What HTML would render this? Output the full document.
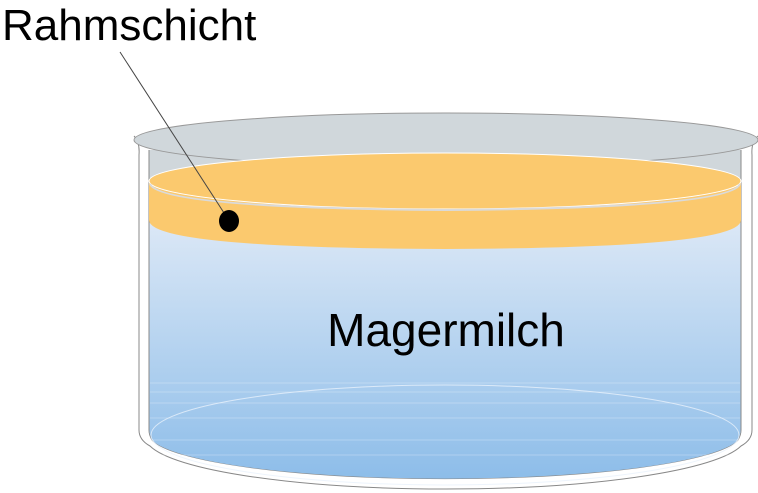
<!DOCTYPE html>
<html><head><style>
html,body{margin:0;padding:0;background:#fff;}
svg{display:block;}
text{font-family:"Liberation Sans",sans-serif;fill:#000;}
</style></head><body>
<svg width="758" height="493" viewBox="0 0 758 493" xmlns="http://www.w3.org/2000/svg">
<defs>
<linearGradient id="bl" x1="0" y1="0" x2="0" y2="1">
<stop offset="0" stop-color="#dce8f6"/>
<stop offset="1" stop-color="#8dbde9"/>
</linearGradient>
</defs>
<!-- outer beaker -->
<path d="M134,136 Q140,142 139,155 L139,430 Q139,440 150,446 A300,52 0 0 0 741,446 Q752,440 752,430 L752,155 Q751,142 758,136" fill="#fff" stroke="#888" stroke-width="1"/>
<!-- inner walls -->
<path d="M149,150 L149,430 Q149,435 152,440 A296,45 0 0 0 738,440 Q741,435 741,430 L741,150" fill="#d0d7db" stroke="#888" stroke-width="1"/>
<!-- blue liquid -->
<path d="M149.5,220 L149.5,430 Q149.5,435 152,440 A296,45 0 0 0 738,440 Q740.5,435 740.5,430 L740.5,220 Z" fill="url(#bl)"/>
<g stroke="#fff" stroke-opacity="0.25" stroke-width="1">
<line x1="150" y1="383" x2="740" y2="383"/><line x1="150" y1="392" x2="740" y2="392"/>
<line x1="150" y1="403" x2="740" y2="403"/><line x1="150" y1="418" x2="740" y2="418"/>
<line x1="150" y1="440" x2="740" y2="440"/><line x1="150" y1="455" x2="740" y2="455"/>
</g>
<ellipse cx="445" cy="435" rx="294" ry="50" fill="none" stroke="#e8f1fb" stroke-width="1" stroke-opacity="0.8"/>
<!-- rim -->
<ellipse cx="446" cy="140" rx="312" ry="27" fill="#d0d7db" stroke="#999" stroke-width="1"/>
<!-- orange band -->
<path d="M149,181 L149,220 Q149,248 445,249 Q741,248 741,220 L741,181 Z" fill="#fbc96e"/>
<ellipse cx="445" cy="181" rx="296" ry="28" fill="#fbc96e" stroke="#fff" stroke-width="1"/>
<path d="M150,184 Q160,208 445,210 Q730,208 740,184" fill="none" stroke="#dadada" stroke-width="2"/>
<!-- text -->
<text x="2" y="40" font-size="44">Rahmschicht</text>
<text x="446" y="346" font-size="46" text-anchor="middle">Magermilch</text>
<line x1="120" y1="52" x2="226" y2="216" stroke="#444" stroke-width="1"/>
<ellipse cx="229" cy="221" rx="10" ry="11" fill="#000"/>
</svg>
</body></html>
